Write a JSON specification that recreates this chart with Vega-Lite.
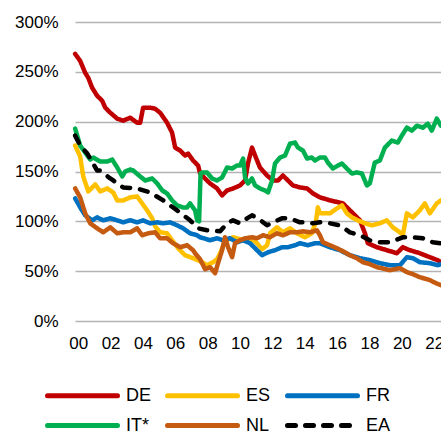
{
"$schema":"https://vega.github.io/schema/vega-lite/v6.json",
"width":366,"height":299,
"autosize":{"type":"none"},
"padding":{"left":75,"top":22,"right":0,"bottom":111},
"background":"white",
"config":{"view":{"stroke":null},"font":"Liberation Sans"},
"data":{"values":[
{"s":"DE","t":1999.81,"v":268},{"s":"DE","t":2000.12,"v":261},{"s":"DE","t":2000.43,"v":249},{"s":"DE","t":2000.62,"v":244},{"s":"DE","t":2000.86,"v":234},{"s":"DE","t":2001.17,"v":226},{"s":"DE","t":2001.48,"v":221},{"s":"DE","t":2001.67,"v":214},{"s":"DE","t":2001.98,"v":209},{"s":"DE","t":2002.41,"v":203},{"s":"DE","t":2002.78,"v":201},{"s":"DE","t":2003.21,"v":204},{"s":"DE","t":2003.64,"v":199},{"s":"DE","t":2003.83,"v":199},{"s":"DE","t":2004.01,"v":214},{"s":"DE","t":2004.44,"v":214},{"s":"DE","t":2004.75,"v":213},{"s":"DE","t":2005.06,"v":209},{"s":"DE","t":2005.49,"v":199},{"s":"DE","t":2005.8,"v":189},{"s":"DE","t":2005.99,"v":174},{"s":"DE","t":2006.3,"v":171},{"s":"DE","t":2006.6,"v":166},{"s":"DE","t":2006.79,"v":168},{"s":"DE","t":2007.1,"v":161},{"s":"DE","t":2007.41,"v":156},{"s":"DE","t":2007.53,"v":148},{"s":"DE","t":2007.96,"v":141},{"s":"DE","t":2008.15,"v":138},{"s":"DE","t":2008.58,"v":133},{"s":"DE","t":2008.89,"v":126},{"s":"DE","t":2009.2,"v":131},{"s":"DE","t":2009.57,"v":133},{"s":"DE","t":2010.0,"v":136},{"s":"DE","t":2010.31,"v":141},{"s":"DE","t":2010.49,"v":158},{"s":"DE","t":2010.74,"v":174},{"s":"DE","t":2010.93,"v":166},{"s":"DE","t":2011.23,"v":154},{"s":"DE","t":2011.67,"v":146},{"s":"DE","t":2012.04,"v":141},{"s":"DE","t":2012.35,"v":141},{"s":"DE","t":2012.65,"v":146},{"s":"DE","t":2012.96,"v":141},{"s":"DE","t":2013.27,"v":136},{"s":"DE","t":2013.7,"v":134},{"s":"DE","t":2014.14,"v":133},{"s":"DE","t":2014.51,"v":128},{"s":"DE","t":2014.94,"v":124},{"s":"DE","t":2015.56,"v":121},{"s":"DE","t":2016.36,"v":118},{"s":"DE","t":2016.98,"v":108},{"s":"DE","t":2017.41,"v":101},{"s":"DE","t":2017.72,"v":88},{"s":"DE","t":2017.9,"v":78},{"s":"DE","t":2018.46,"v":74},{"s":"DE","t":2019.07,"v":71},{"s":"DE","t":2019.69,"v":68},{"s":"DE","t":2020.06,"v":74},{"s":"DE","t":2020.49,"v":71},{"s":"DE","t":2021.11,"v":68},{"s":"DE","t":2021.73,"v":64},{"s":"DE","t":2022.22,"v":61},{"s":"DE","t":2022.41,"v":59},
{"s":"ES","t":1999.81,"v":176},{"s":"ES","t":2000.12,"v":165},{"s":"ES","t":2000.31,"v":145},{"s":"ES","t":2000.62,"v":130},{"s":"ES","t":2001.05,"v":137},{"s":"ES","t":2001.36,"v":130},{"s":"ES","t":2001.79,"v":133},{"s":"ES","t":2002.16,"v":129},{"s":"ES","t":2002.41,"v":121},{"s":"ES","t":2002.78,"v":121},{"s":"ES","t":2003.21,"v":124},{"s":"ES","t":2003.64,"v":125},{"s":"ES","t":2003.95,"v":118},{"s":"ES","t":2004.26,"v":111},{"s":"ES","t":2004.57,"v":103},{"s":"ES","t":2004.75,"v":95},{"s":"ES","t":2005.06,"v":89},{"s":"ES","t":2005.49,"v":88},{"s":"ES","t":2005.8,"v":81},{"s":"ES","t":2006.17,"v":73},{"s":"ES","t":2006.6,"v":66},{"s":"ES","t":2007.1,"v":63},{"s":"ES","t":2007.53,"v":60},{"s":"ES","t":2007.96,"v":56},{"s":"ES","t":2008.33,"v":59},{"s":"ES","t":2008.58,"v":62},{"s":"ES","t":2008.77,"v":68},{"s":"ES","t":2009.07,"v":80},{"s":"ES","t":2009.57,"v":84},{"s":"ES","t":2010.0,"v":82},{"s":"ES","t":2010.43,"v":80},{"s":"ES","t":2010.74,"v":82},{"s":"ES","t":2011.05,"v":78},{"s":"ES","t":2011.36,"v":72},{"s":"ES","t":2011.67,"v":76},{"s":"ES","t":2011.85,"v":88},{"s":"ES","t":2012.28,"v":94},{"s":"ES","t":2012.65,"v":89},{"s":"ES","t":2013.09,"v":93},{"s":"ES","t":2013.52,"v":88},{"s":"ES","t":2014.01,"v":84},{"s":"ES","t":2014.44,"v":88},{"s":"ES","t":2014.69,"v":100},{"s":"ES","t":2014.81,"v":114},{"s":"ES","t":2014.94,"v":108},{"s":"ES","t":2015.56,"v":108},{"s":"ES","t":2015.99,"v":113},{"s":"ES","t":2016.3,"v":116},{"s":"ES","t":2016.6,"v":108},{"s":"ES","t":2016.91,"v":104},{"s":"ES","t":2017.28,"v":101},{"s":"ES","t":2017.72,"v":98},{"s":"ES","t":2018.15,"v":96},{"s":"ES","t":2018.64,"v":98},{"s":"ES","t":2019.07,"v":101},{"s":"ES","t":2019.44,"v":94},{"s":"ES","t":2019.88,"v":89},{"s":"ES","t":2020.06,"v":86},{"s":"ES","t":2020.31,"v":108},{"s":"ES","t":2020.68,"v":104},{"s":"ES","t":2021.11,"v":111},{"s":"ES","t":2021.42,"v":118},{"s":"ES","t":2021.73,"v":108},{"s":"ES","t":2022.16,"v":118},{"s":"ES","t":2022.41,"v":121},
{"s":"FR","t":1999.81,"v":123},{"s":"FR","t":2000.12,"v":114},{"s":"FR","t":2000.43,"v":106},{"s":"FR","t":2000.86,"v":101},{"s":"FR","t":2001.17,"v":104},{"s":"FR","t":2001.54,"v":101},{"s":"FR","t":2001.98,"v":103},{"s":"FR","t":2002.41,"v":101},{"s":"FR","t":2002.78,"v":99},{"s":"FR","t":2003.21,"v":101},{"s":"FR","t":2003.64,"v":99},{"s":"FR","t":2004.01,"v":101},{"s":"FR","t":2004.44,"v":98},{"s":"FR","t":2004.88,"v":99},{"s":"FR","t":2005.25,"v":98},{"s":"FR","t":2005.68,"v":99},{"s":"FR","t":2006.11,"v":96},{"s":"FR","t":2006.48,"v":93},{"s":"FR","t":2006.91,"v":88},{"s":"FR","t":2007.35,"v":86},{"s":"FR","t":2007.53,"v":84},{"s":"FR","t":2008.15,"v":81},{"s":"FR","t":2008.58,"v":83},{"s":"FR","t":2008.95,"v":81},{"s":"FR","t":2009.38,"v":83},{"s":"FR","t":2009.81,"v":79},{"s":"FR","t":2010.19,"v":81},{"s":"FR","t":2010.62,"v":78},{"s":"FR","t":2011.05,"v":71},{"s":"FR","t":2011.36,"v":66},{"s":"FR","t":2011.73,"v":69},{"s":"FR","t":2012.16,"v":71},{"s":"FR","t":2012.59,"v":74},{"s":"FR","t":2012.96,"v":74},{"s":"FR","t":2013.4,"v":76},{"s":"FR","t":2013.7,"v":78},{"s":"FR","t":2014.2,"v":76},{"s":"FR","t":2014.63,"v":78},{"s":"FR","t":2014.94,"v":78},{"s":"FR","t":2015.56,"v":74},{"s":"FR","t":2016.17,"v":71},{"s":"FR","t":2016.79,"v":66},{"s":"FR","t":2017.41,"v":63},{"s":"FR","t":2018.02,"v":61},{"s":"FR","t":2018.64,"v":58},{"s":"FR","t":2019.26,"v":56},{"s":"FR","t":2019.88,"v":56},{"s":"FR","t":2020.31,"v":64},{"s":"FR","t":2020.68,"v":63},{"s":"FR","t":2021.11,"v":59},{"s":"FR","t":2021.73,"v":58},{"s":"FR","t":2022.22,"v":56},{"s":"FR","t":2022.41,"v":57},
{"s":"IT*","t":1999.81,"v":193},{"s":"IT*","t":2000.12,"v":176},{"s":"IT*","t":2000.43,"v":169},{"s":"IT*","t":2000.74,"v":162},{"s":"IT*","t":2000.93,"v":164},{"s":"IT*","t":2001.36,"v":160},{"s":"IT*","t":2001.79,"v":160},{"s":"IT*","t":2002.1,"v":162},{"s":"IT*","t":2002.41,"v":154},{"s":"IT*","t":2002.72,"v":145},{"s":"IT*","t":2002.9,"v":150},{"s":"IT*","t":2003.21,"v":152},{"s":"IT*","t":2003.4,"v":151},{"s":"IT*","t":2003.83,"v":145},{"s":"IT*","t":2004.14,"v":141},{"s":"IT*","t":2004.57,"v":143},{"s":"IT*","t":2004.88,"v":138},{"s":"IT*","t":2005.19,"v":131},{"s":"IT*","t":2005.49,"v":128},{"s":"IT*","t":2005.8,"v":121},{"s":"IT*","t":2006.11,"v":116},{"s":"IT*","t":2006.48,"v":114},{"s":"IT*","t":2006.73,"v":114},{"s":"IT*","t":2006.91,"v":118},{"s":"IT*","t":2007.22,"v":111},{"s":"IT*","t":2007.35,"v":101},{"s":"IT*","t":2007.47,"v":100},{"s":"IT*","t":2007.56,"v":148},{"s":"IT*","t":2007.65,"v":149},{"s":"IT*","t":2007.96,"v":149},{"s":"IT*","t":2008.27,"v":143},{"s":"IT*","t":2008.58,"v":141},{"s":"IT*","t":2008.89,"v":144},{"s":"IT*","t":2009.2,"v":154},{"s":"IT*","t":2009.51,"v":153},{"s":"IT*","t":2009.81,"v":156},{"s":"IT*","t":2010.0,"v":156},{"s":"IT*","t":2010.19,"v":163},{"s":"IT*","t":2010.31,"v":144},{"s":"IT*","t":2010.49,"v":138},{"s":"IT*","t":2010.74,"v":143},{"s":"IT*","t":2010.93,"v":136},{"s":"IT*","t":2011.23,"v":133},{"s":"IT*","t":2011.54,"v":131},{"s":"IT*","t":2011.73,"v":129},{"s":"IT*","t":2011.98,"v":141},{"s":"IT*","t":2012.16,"v":158},{"s":"IT*","t":2012.47,"v":164},{"s":"IT*","t":2012.78,"v":166},{"s":"IT*","t":2013.09,"v":178},{"s":"IT*","t":2013.4,"v":179},{"s":"IT*","t":2013.58,"v":174},{"s":"IT*","t":2013.89,"v":171},{"s":"IT*","t":2014.14,"v":163},{"s":"IT*","t":2014.44,"v":164},{"s":"IT*","t":2014.63,"v":161},{"s":"IT*","t":2014.94,"v":164},{"s":"IT*","t":2015.25,"v":164},{"s":"IT*","t":2015.43,"v":159},{"s":"IT*","t":2015.74,"v":153},{"s":"IT*","t":2016.05,"v":156},{"s":"IT*","t":2016.3,"v":158},{"s":"IT*","t":2016.6,"v":153},{"s":"IT*","t":2016.91,"v":148},{"s":"IT*","t":2017.22,"v":149},{"s":"IT*","t":2017.53,"v":148},{"s":"IT*","t":2017.84,"v":136},{"s":"IT*","t":2018.02,"v":138},{"s":"IT*","t":2018.33,"v":159},{"s":"IT*","t":2018.64,"v":161},{"s":"IT*","t":2018.95,"v":174},{"s":"IT*","t":2019.38,"v":181},{"s":"IT*","t":2019.75,"v":179},{"s":"IT*","t":2020.0,"v":186},{"s":"IT*","t":2020.31,"v":194},{"s":"IT*","t":2020.62,"v":191},{"s":"IT*","t":2020.93,"v":196},{"s":"IT*","t":2021.3,"v":194},{"s":"IT*","t":2021.6,"v":198},{"s":"IT*","t":2021.85,"v":191},{"s":"IT*","t":2022.16,"v":203},{"s":"IT*","t":2022.41,"v":196},
{"s":"NL","t":1999.81,"v":133},{"s":"NL","t":2000.12,"v":124},{"s":"NL","t":2000.43,"v":108},{"s":"NL","t":2000.74,"v":98},{"s":"NL","t":2001.17,"v":93},{"s":"NL","t":2001.54,"v":89},{"s":"NL","t":2001.98,"v":94},{"s":"NL","t":2002.41,"v":88},{"s":"NL","t":2002.78,"v":89},{"s":"NL","t":2003.21,"v":89},{"s":"NL","t":2003.64,"v":93},{"s":"NL","t":2003.95,"v":86},{"s":"NL","t":2004.32,"v":88},{"s":"NL","t":2004.75,"v":89},{"s":"NL","t":2005.06,"v":83},{"s":"NL","t":2005.49,"v":83},{"s":"NL","t":2005.86,"v":78},{"s":"NL","t":2006.3,"v":74},{"s":"NL","t":2006.73,"v":76},{"s":"NL","t":2007.1,"v":71},{"s":"NL","t":2007.22,"v":68},{"s":"NL","t":2007.53,"v":62},{"s":"NL","t":2007.84,"v":52},{"s":"NL","t":2008.15,"v":54},{"s":"NL","t":2008.46,"v":48},{"s":"NL","t":2008.64,"v":58},{"s":"NL","t":2008.89,"v":71},{"s":"NL","t":2009.07,"v":84},{"s":"NL","t":2009.26,"v":74},{"s":"NL","t":2009.51,"v":64},{"s":"NL","t":2009.69,"v":78},{"s":"NL","t":2010.0,"v":81},{"s":"NL","t":2010.31,"v":83},{"s":"NL","t":2010.74,"v":84},{"s":"NL","t":2011.05,"v":83},{"s":"NL","t":2011.42,"v":86},{"s":"NL","t":2011.85,"v":84},{"s":"NL","t":2012.28,"v":88},{"s":"NL","t":2012.65,"v":86},{"s":"NL","t":2013.09,"v":89},{"s":"NL","t":2013.52,"v":89},{"s":"NL","t":2013.89,"v":90},{"s":"NL","t":2014.32,"v":89},{"s":"NL","t":2014.75,"v":91},{"s":"NL","t":2014.94,"v":86},{"s":"NL","t":2015.12,"v":79},{"s":"NL","t":2015.56,"v":76},{"s":"NL","t":2015.99,"v":73},{"s":"NL","t":2016.36,"v":70},{"s":"NL","t":2016.79,"v":66},{"s":"NL","t":2017.22,"v":63},{"s":"NL","t":2017.59,"v":59},{"s":"NL","t":2018.02,"v":57},{"s":"NL","t":2018.46,"v":54},{"s":"NL","t":2019.26,"v":51},{"s":"NL","t":2019.88,"v":53},{"s":"NL","t":2020.31,"v":49},{"s":"NL","t":2020.68,"v":47},{"s":"NL","t":2021.11,"v":44},{"s":"NL","t":2021.73,"v":41},{"s":"NL","t":2022.1,"v":38},{"s":"NL","t":2022.41,"v":36},
{"s":"EA","t":1999.81,"v":186},{"s":"EA","t":2000.12,"v":176},{"s":"EA","t":2000.56,"v":168},{"s":"EA","t":2001.17,"v":151},{"s":"EA","t":2001.36,"v":151},{"s":"EA","t":2001.98,"v":143},{"s":"EA","t":2002.16,"v":141},{"s":"EA","t":2002.78,"v":134},{"s":"EA","t":2003.64,"v":133},{"s":"EA","t":2004.44,"v":129},{"s":"EA","t":2005.25,"v":121},{"s":"EA","t":2006.11,"v":111},{"s":"EA","t":2006.91,"v":101},{"s":"EA","t":2007.41,"v":93},{"s":"EA","t":2007.96,"v":91},{"s":"EA","t":2008.77,"v":90},{"s":"EA","t":2009.2,"v":98},{"s":"EA","t":2009.57,"v":101},{"s":"EA","t":2010.0,"v":98},{"s":"EA","t":2010.43,"v":103},{"s":"EA","t":2010.74,"v":106},{"s":"EA","t":2011.11,"v":103},{"s":"EA","t":2011.67,"v":96},{"s":"EA","t":2012.04,"v":99},{"s":"EA","t":2012.59,"v":103},{"s":"EA","t":2013.09,"v":103},{"s":"EA","t":2013.7,"v":99},{"s":"EA","t":2014.14,"v":99},{"s":"EA","t":2014.51,"v":98},{"s":"EA","t":2014.94,"v":99},{"s":"EA","t":2015.56,"v":98},{"s":"EA","t":2016.17,"v":96},{"s":"EA","t":2016.79,"v":89},{"s":"EA","t":2017.41,"v":86},{"s":"EA","t":2018.02,"v":81},{"s":"EA","t":2018.64,"v":79},{"s":"EA","t":2019.26,"v":79},{"s":"EA","t":2020.06,"v":84},{"s":"EA","t":2020.68,"v":84},{"s":"EA","t":2021.3,"v":83},{"s":"EA","t":2021.91,"v":79},{"s":"EA","t":2022.41,"v":78}
]},
"mark":{"type":"line","strokeWidth":4.5,"strokeJoin":"round","strokeCap":"round"},
"encoding":{
"x":{"field":"t","type":"quantitative","scale":{"domain":[1999.8,2022.42],"nice":false,"zero":false},
"axis":{"values":[2000,2002,2004,2006,2008,2010,2012,2014,2016,2018,2020,2022],"labelExpr":"substring(toString(datum.value),2,4)","grid":false,"domain":false,"ticks":false,"labelFontSize":17,"labelColor":"#000000","labelPadding":14,"title":null,"labelFlush":false,"labelOverlap":false}},
"y":{"field":"v","type":"quantitative","scale":{"domain":[0,300],"nice":false},
"axis":{"values":[0,50,100,150,200,250,300],"labelExpr":"datum.value+'%'","grid":true,"gridColor":"#b3b3b3","gridWidth":1.5,"domain":false,"ticks":false,"labelFontSize":17,"labelColor":"#000000","labelPadding":17,"title":null}},
"color":{"field":"s","type":"nominal","sort":null,"scale":{"domain":["DE","ES","FR","IT*","NL","EA"],"range":["#c00000","#ffc000","#0070c0","#00b050","#c55a11","#000000"]},
"legend":{"orient":"none","legendX":-2,"legendY":364,"direction":"horizontal","columns":3,"title":null,"symbolType":"M-5,0L5,0","symbolSize":196,"symbolStrokeWidth":5,"labelFontSize":18,"labelColor":"#000000","labelOffset":34,"columnPadding":5,"rowPadding":9,"gridAlign":"all","encode":{"symbols":{"update":{"strokeCap":{"value":"round"}}}}}},
"strokeDash":{"field":"s","type":"nominal","sort":null,"scale":{"domain":["DE","ES","FR","IT*","NL","EA"],"range":[[1,0],[1,0],[1,0],[1,0],[1,0],[8,10]]},
"legend":{"orient":"none","legendX":-2,"legendY":364,"direction":"horizontal","columns":3,"title":null,"symbolType":"M-5,0L5,0","symbolSize":196,"symbolStrokeWidth":5,"labelFontSize":18,"labelColor":"#000000","labelOffset":34,"columnPadding":5,"rowPadding":9,"gridAlign":"all","encode":{"symbols":{"update":{"strokeCap":{"value":"round"}}}}}}
}
}
